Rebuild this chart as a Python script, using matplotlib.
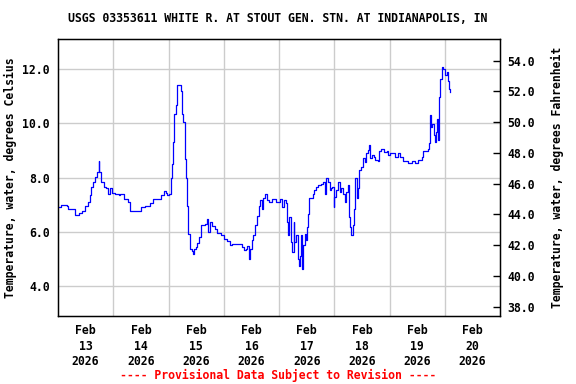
import numpy as np
import matplotlib
matplotlib.use('Agg')
import matplotlib.pyplot as plt

# hours since Feb 13 00:00, water temperature (deg C)
hours = [0.1, 1.3, 3.8, 4.2, 6.7, 7.4, 8.6, 9.2, 10.3, 11.8, 12.9, 13.7, 14.4, 15.4,
         16.1, 16.9, 17.6, 18.0, 18.6, 19.8, 20.8, 21.7, 22.4, 23.4, 24.6, 26.3, 27.1,
         28.5, 30.4, 31.4, 35.1, 36.2, 38.0, 40.1, 41.2, 43.8, 44.9, 46.0, 46.7, 47.4,
         48.4, 48.9, 49.3, 49.6, 50.0, 50.5, 51.1, 51.5, 51.8, 52.9, 53.4, 54.0, 54.5,
         55.0, 55.4, 56.1, 56.6, 57.2, 58.0, 58.6, 59.1, 59.8, 60.5, 61.2, 62.0, 62.7,
         63.9, 64.9, 65.3, 65.9, 67.1, 68.2, 69.2, 70.7, 71.9, 73.6, 74.6, 75.8, 77.2,
         79.0, 79.9, 80.9, 81.6, 82.3, 83.1, 83.5, 84.2, 84.9, 85.7, 86.4, 87.1, 87.9,
         88.6, 89.2, 90.0, 90.6, 91.8, 92.9, 94.7, 96.4, 97.3, 98.3, 99.1,
         99.3, 99.8, 100.5, 101.2, 101.7, 102.3, 102.7, 103.4, 104.1, 104.6, 105.2,
         105.6, 106.0, 106.6, 107.1, 107.8, 108.2, 108.8, 109.2, 110.0, 110.7, 111.4,
         112.1, 112.9, 114.3, 115.1, 115.8, 116.5, 117.2, 118.0, 118.7, 119.1, 119.7,
         120.1, 120.9, 121.6, 122.3, 123.1, 123.8, 124.5, 125.2, 126.0, 126.4, 126.8,
         127.4, 128.0, 128.6, 129.2, 129.7, 130.3, 130.9, 131.8, 132.5, 133.2, 134.0,
         134.7, 135.1, 135.7, 136.4, 137.3, 137.9, 138.8, 139.3, 140.5, 141.7, 142.7,
         143.4, 144.1, 145.6, 146.3, 147.8, 148.5, 149.2, 150.0, 151.4, 152.1, 153.6,
         155.1, 156.5, 158.0, 158.7, 159.7, 160.6, 161.2, 161.6, 162.0, 162.6, 163.2,
         163.8, 164.2, 164.7, 165.1, 165.5, 166.1, 166.7, 167.4, 168.1, 168.9, 169.6,
         170.0, 170.3]
temp_c = [6.9, 7.0, 6.95, 6.85, 6.85, 6.64, 6.64, 6.7, 6.78, 6.97, 7.1, 7.35, 7.66, 7.85,
          8.03, 8.2, 8.6, 8.2, 7.85, 7.66, 7.6, 7.38, 7.6, 7.44, 7.38, 7.35, 7.38,
          7.2, 7.1, 6.78, 6.78, 6.9, 6.96, 7.05, 7.2, 7.22, 7.35, 7.5, 7.44, 7.35,
          7.38, 7.66, 8.0, 8.5, 9.3, 10.35, 10.66, 11.2, 11.4, 11.4, 11.2, 10.35, 10.04,
          8.7, 8.0, 6.95, 5.93, 5.38, 5.31, 5.2, 5.38, 5.44, 5.6, 5.8, 6.24, 6.26,
          6.3, 6.47, 5.99, 6.35, 6.22, 6.1, 5.97, 5.9, 5.73, 5.66, 5.53, 5.57, 5.57,
          5.57, 5.44, 5.32, 5.38, 5.48, 4.99, 5.38, 5.69, 5.87, 6.24, 6.6, 6.97, 7.16,
          6.85, 7.24, 7.38, 7.16, 7.1, 7.2, 7.1, 7.2, 6.9, 7.16, 7.05,
          6.35, 5.87, 6.55, 5.62, 5.25, 6.35, 5.62, 5.87, 5.0, 4.75, 5.13,
          5.89, 4.62, 5.5, 5.93, 5.69, 6.18, 6.67, 7.24, 7.24, 7.38, 7.55,
          7.66, 7.72, 7.78, 7.85, 7.41, 7.97, 7.85, 7.55, 7.6, 7.66, 6.93,
          7.3, 7.55, 7.85, 7.47, 7.6, 7.41, 7.1, 7.47, 7.72, 6.55, 6.18,
          5.87, 6.24, 6.86, 7.97, 7.24, 7.6, 8.28, 8.4, 8.71, 8.59, 8.9,
          9.02, 9.2, 8.71, 8.83, 8.77, 8.65, 8.6, 8.96, 9.06, 8.93, 8.98,
          8.83, 8.9, 8.9, 8.77, 8.9, 8.77, 8.77, 8.6, 8.6, 8.55, 8.6,
          8.52, 8.65, 8.77, 8.98, 8.98, 9.06, 9.27, 10.29, 9.86, 9.98, 9.55,
          9.3, 9.67, 10.16, 9.37, 10.96, 11.64, 12.07, 12.01, 11.76, 11.88, 11.57,
          11.26, 11.14]

day_labels = ['Feb\n13\n2026', 'Feb\n14\n2026', 'Feb\n15\n2026', 'Feb\n16\n2026',
              'Feb\n17\n2026', 'Feb\n18\n2026', 'Feb\n19\n2026', 'Feb\n20\n2026']
c_ticks = [4.0, 6.0, 8.0, 10.0, 12.0]
f_ticks = [38.0, 40.0, 42.0, 44.0, 46.0, 48.0, 50.0, 52.0, 54.0]

font = 'DejaVu Sans Mono'
fs = 8.3

fig = plt.figure(figsize=(5.76, 3.84), dpi=100)
ax = fig.add_axes([58/576, 1-316/384, 442/576, 277/384])

days = np.array(hours) / 24.0
ax.plot(days, temp_c, color='#0000ff', lw=0.9, drawstyle='steps-post')

ax.set_xlim(0, 8)
ax.set_ylim(2.905, 13.1)
ax.set_xticks(np.arange(1, 8), minor=False)
ax.set_xticklabels([])
ax.set_xticks(np.arange(8) + 0.5, minor=True)
ax.set_xticklabels(day_labels, minor=True, fontfamily=font, fontweight='bold',
                   fontsize=fs, linespacing=1.25)
ax.tick_params(axis='x', which='both', length=0, pad=6)
ax.set_yticks(c_ticks)
ax.set_yticklabels(['%.1f' % v for v in c_ticks], fontfamily=font, fontweight='bold', fontsize=fs)
ax.tick_params(axis='y', length=0, pad=6)
ax.grid(True, which='major', color='#cccccc', lw=1)
ax.set_axisbelow(True)
ax.set_ylabel('Temperature, water, degrees Celsius', fontfamily=font, fontweight='bold',
              fontsize=fs, labelpad=4)
for s in ax.spines.values():
    s.set_linewidth(1)

ax2 = ax.twinx()
ax2.set_ylim(37.39, 55.41)
ax2.set_yticks(f_ticks)
ax2.set_yticklabels(['%.1f' % v for v in f_ticks], fontfamily=font, fontweight='bold', fontsize=fs)
ax2.tick_params(axis='y', direction='in', length=5, width=1, pad=5)
ax2.set_ylabel('Temperature, water, degrees Fahrenheit', fontfamily=font, fontweight='bold',
               fontsize=fs, labelpad=12)

fig.text(278/576, 1-19/384, 'USGS 03353611 WHITE R. AT STOUT GEN. STN. AT INDIANAPOLIS, IN',
         ha='center', va='center', fontfamily=font, fontweight='bold', fontsize=fs)
fig.text(278/576, 1-375/384, '---- Provisional Data Subject to Revision ----',
         ha='center', va='center', fontfamily=font, fontweight='bold', fontsize=fs, color='#ff0000')

fig.savefig('out.png', dpi=100)
